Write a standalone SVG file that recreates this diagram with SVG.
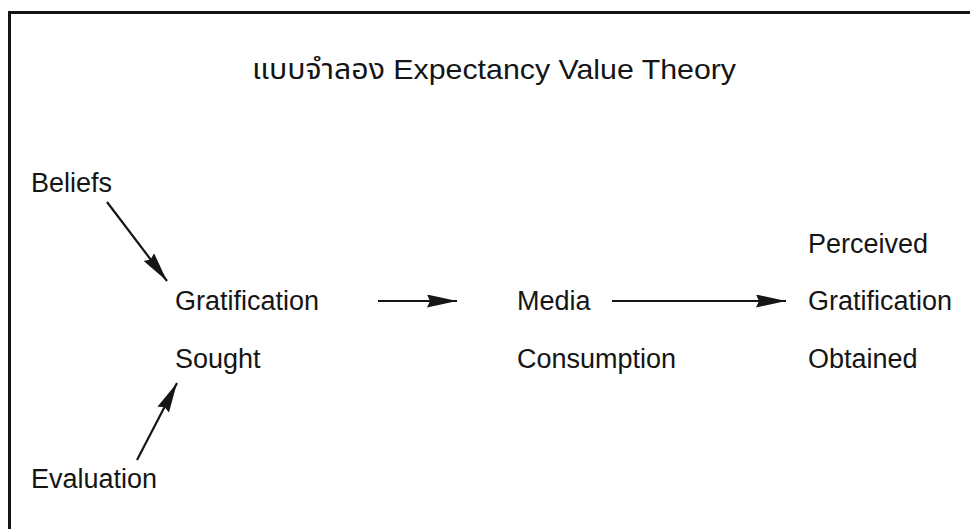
<svg xmlns="http://www.w3.org/2000/svg" width="970" height="529" viewBox="0 0 970 529">
<style>
text{font-family:"Liberation Sans","Noto Sans Thai","Noto Sans",Arial,sans-serif;fill:#151515;}
.lbl{font-size:27px;}
.title{font-size:28px;}
.conn line{stroke:#151515;stroke-width:2.2;fill:none;}
</style>
<defs>
<marker id="ah" markerUnits="userSpaceOnUse" markerWidth="32" markerHeight="14" refX="30" refY="6.5" orient="auto">
<path d="M0,0 L30,6.5 L0,13 L3,6.5 Z" fill="#151515"/>
</marker>
</defs>
<rect width="970" height="529" fill="#ffffff"/>
<g id="frame">
<path d="M9.5,529 L9.5,12.5 L970,12.5" fill="none" stroke="#151515" stroke-width="3"/>
</g>
<g id="title"><text class="title" x="252" y="79" textLength="484" lengthAdjust="spacingAndGlyphs">แบบจำลอง Expectancy Value Theory</text></g>
<g id="beliefs"><text class="lbl" x="31" y="192">Beliefs</text></g>
<g id="evaluation"><text class="lbl" x="31" y="488">Evaluation</text></g>
<g id="gratification-sought"><text class="lbl" x="175" y="310">Gratification</text><text class="lbl" x="175" y="368">Sought</text></g>
<g id="media-consumption"><text class="lbl" x="517" y="310">Media</text><text class="lbl" x="517" y="368">Consumption</text></g>
<g id="perceived-gratification"><text class="lbl" x="808" y="253">Perceived</text><text class="lbl" x="808" y="310">Gratification</text><text class="lbl" x="808" y="368">Obtained</text></g>
<g id="connectors" class="conn">
<line x1="107" y1="202" x2="167" y2="281" marker-end="url(#ah)"/>
<line x1="137" y1="460" x2="177" y2="383" marker-end="url(#ah)"/>
<line x1="378" y1="301" x2="457" y2="301" marker-end="url(#ah)"/>
<line x1="612" y1="301" x2="786" y2="301" marker-end="url(#ah)"/>
</g>
</svg>
